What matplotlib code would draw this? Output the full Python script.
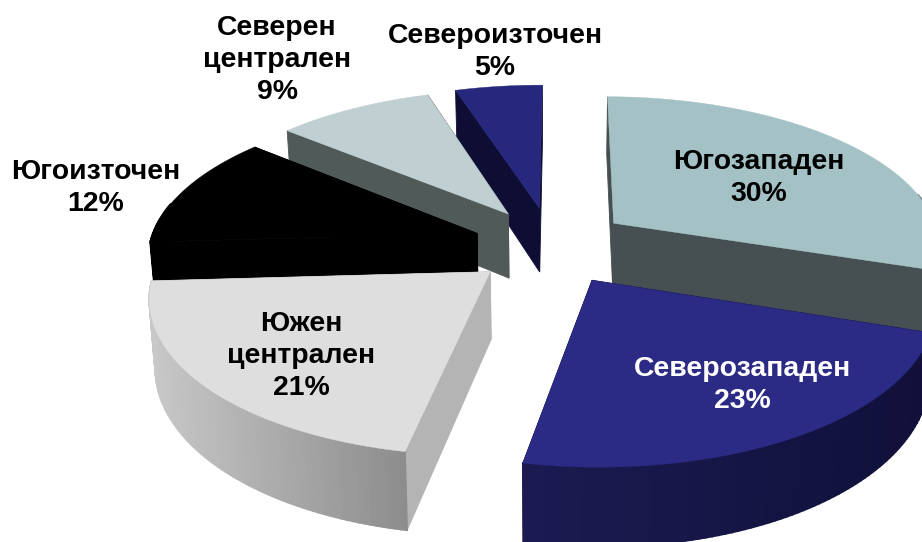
import numpy as np
import matplotlib
matplotlib.use("Agg")
import matplotlib.pyplot as plt
from matplotlib.colors import to_rgb

plt.rcParams["font.family"] = ["Liberation Sans", "DejaVu Sans"]

regions = ["Югозападен", "Северозападен", "Южен\nцентрален", "Югоизточен", "Северен\nцентрален", "Североизточен"]
shares = [30, 23, 21, 12, 9, 5]

top_colors = ["#A4C2C5", "#2B2A85", "#DEDEDE", "#000000", "#BFCFD2", "#27277E"]
cut_colors = ["#465052", "#12123C", "#B4B4B4", "#000000", "#505A58", "#0E0E35"]
# outer wall colours, left end and right end of the gradient
wall_left = ["#465052", "#1B1B52", "#C8C8C8", "#000000", "#505A58", "#0E0E35"]
wall_right = ["#465052", "#10103A", "#8C8C8C", "#000000", "#505A58", "#0E0E35"]
label_colors = ["black", "white", "black", "black", "black", "black"]
label_xy = [(759, 178), (742, 385), (301, 356), (96, 188), (277, 60), (495, 52)]

# projection of the tilted, exploded pie onto the pixel grid
cx, cy = 551, 245.5
rx, ry = 328, 150
persp = 0.14
explode_u, explode_v = 0.24, 0.26
depth = 66
start_angle = 0.3
draw_order = [5, 0, 4, 3, 2, 1]


def project(u, v, z=0.0):
    s = 1 / (1 + persp * v)
    x = cx + rx * u * s * (1 - 0.015 * z)
    y = cy - ry * v * s + depth * s * z
    return x, y


def rim(a0, a1, n=80):
    ang = np.radians(np.linspace(a0, a1, n))
    return np.sin(ang), np.cos(ang)


fig = plt.figure(figsize=(9.22, 5.42), dpi=100)
ax = fig.add_axes([0, 0, 1, 1])
ax.set_xlim(0, 922)
ax.set_ylim(542, 0)
ax.axis("off")

edges = start_angle + np.cumsum([0] + shares) * 3.6

for i in draw_order:
    a0, a1 = edges[i], edges[i + 1]
    mid = np.radians((a0 + a1) / 2)
    ou, ov = explode_u * np.sin(mid), explode_v * np.cos(mid)
    su, sv = rim(a0, a1)
    ru, rv = su + ou, sv + ov

    # cut faces
    for k in (0, -1):
        xs = [project(ou, ov)[0], project(ru[k], rv[k])[0], project(ru[k], rv[k], 1)[0], project(ou, ov, 1)[0]]
        ys = [project(ou, ov)[1], project(ru[k], rv[k])[1], project(ru[k], rv[k], 1)[1], project(ou, ov, 1)[1]]
        ax.fill(xs, ys, color=cut_colors[i], lw=0.6, zorder=1)

    # outer wall, thin strips for the gradient, only the part facing the viewer
    tx, ty = project(ru, rv)
    bx, by = project(ru, rv, 1)
    left, right = np.array(to_rgb(wall_left[i])), np.array(to_rgb(wall_right[i]))
    lo, hi = min(tx.min(), bx.min()), max(tx.max(), bx.max())
    for j in range(len(tx) - 1):
        if sv[j] > 0.2 and sv[j + 1] > 0.2:
            continue
        t = ((tx[j] + tx[j + 1]) / 2 - lo) / (hi - lo)
        col = left + (right - left) * t
        ax.fill([tx[j], tx[j + 1], bx[j + 1], bx[j]], [ty[j], ty[j + 1], by[j + 1], by[j]],
                color=col, lw=1.2, zorder=1)

    # top face
    ax_x, ax_y = project(ou, ov)
    ax.fill(np.r_[ax_x, tx], np.r_[ax_y, ty], color=top_colors[i], lw=0.3, zorder=1)

for name, share, (lx, ly), col in zip(regions, shares, label_xy, label_colors):
    ax.text(lx, ly, f"{name}\n{share}%", ha="center", va="center", color=col,
            fontsize=20.4, fontweight="bold", linespacing=1.3, zorder=3)

fig.savefig("out.png", dpi=100)
